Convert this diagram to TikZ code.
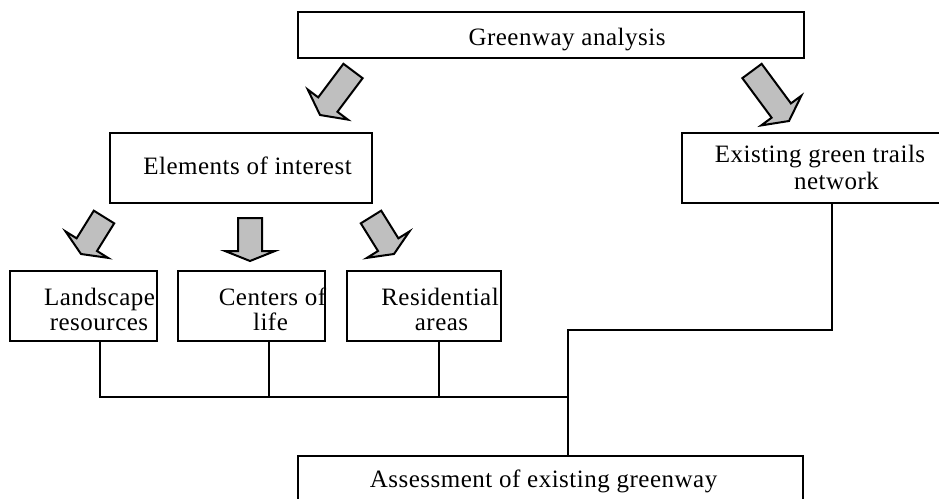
\documentclass[tikz,border=0pt]{standalone}
\usepackage{fontspec}
\setmainfont[LetterSpace=2]{Liberation Serif}
\usetikzlibrary{calc}
\newcommand\blockarrow[5]{%
  \coordinate (hb) at ($(#2)!#5!(#1)$);
  \draw[blk] ($(#1)!#3!90:(#2)$) -- ($(hb)!#3!90:(#2)$) -- ($(hb)!#4!90:(#2)$) -- (#2)
    -- ($(hb)!#4!-90:(#2)$) -- ($(hb)!#3!-90:(#2)$) -- ($(#1)!#3!-90:(#2)$) -- cycle;}
\begin{document}
\begin{tikzpicture}[x=1pt,y=-1pt,
  box/.style={draw, line width=2pt, inner sep=0pt, fill=white},
  txt/.style={inner sep=0pt, anchor=base, font=\fontsize{25pt}{22pt}\selectfont},
  conn/.style={line width=2pt},
  blk/.style={draw, line width=2pt, fill=gray!50!white, line join=miter}]
\useasboundingbox (0,0) rectangle (939,498);
\clip (0,0) rectangle (939,498);
\fill[white] (0,0) rectangle (939,498);

% boxes
\node[box, minimum width=506pt, minimum height=46pt] (top)   at (551,35) {};
\node[box, minimum width=262pt, minimum height=70pt] (elem)  at (241,168) {};
\node[box, minimum width=278pt, minimum height=70pt] (trail) at (821,168) {};
\node[box, minimum width=147pt, minimum height=70pt] (land)  at (83.5,306) {};
\node[box, minimum width=147pt, minimum height=70pt] (cent)  at (251.5,306) {};
\node[box, minimum width=154pt, minimum height=70pt] (resi)  at (424,306) {};
\node[box, minimum width=505pt, minimum height=64pt] (ass)   at (550.5,488) {};

% texts
\node[txt] (ttop)   at (567,45)    {Greenway analysis};
\node[txt] (telem)  at (247.5,174) {Elements of interest};
\node[txt] (ttr1)   at (820,162)   {Existing green trails};
\node[txt] (ttr2)   at (836.5,189) {network};
\node[txt] (tla1)   at (99.5,305)  {Landscape};
\node[txt] (tla2)   at (99,330)    {resources};
\node[txt] (tce1)   at (272.5,305) {Centers of};
\node[txt] (tce2)   at (270.5,330) {life};
\node[txt] (tre1)   at (440,305)   {Residential};
\node[txt] (tre2)   at (441.5,330) {areas};
\node[txt] (tass)   at (543.5,487) {Assessment of existing greenway};

% block arrows
\coordinate (a1s) at (353,71);  \coordinate (a1e) at (320,115);
\coordinate (a2s) at (752,71);  \coordinate (a2e) at (789,121);
\coordinate (a3s) at (104,217); \coordinate (a3e) at (81,254);
\coordinate (a4s) at (250,218); \coordinate (a4e) at (250,261);
\coordinate (a5s) at (371,217); \coordinate (a5e) at (394,254);
\blockarrow{a1s}{a1e}{12pt}{25pt}{13pt}
\blockarrow{a2s}{a2e}{12pt}{25pt}{13pt}
\blockarrow{a3s}{a3e}{12pt}{25pt}{11pt}
\blockarrow{a4s}{a4e}{12pt}{25pt}{10pt}
\blockarrow{a5s}{a5e}{12pt}{25pt}{11pt}

% connectors
\coordinate (bus) at (568,397);
\coordinate (j) at (568,330);
\draw[conn] (land.south -| 100,0) |- (bus);
\draw[conn] (cent.south -| 269,0) -- (269,397);
\draw[conn] (resi.south -| 439,0) -- (439,397);
\draw[conn] (trail.south -| 832,0) |- (j) -- (bus);
\draw[conn] (bus) -- (bus |- ass.north);
\end{tikzpicture}
\end{document}
